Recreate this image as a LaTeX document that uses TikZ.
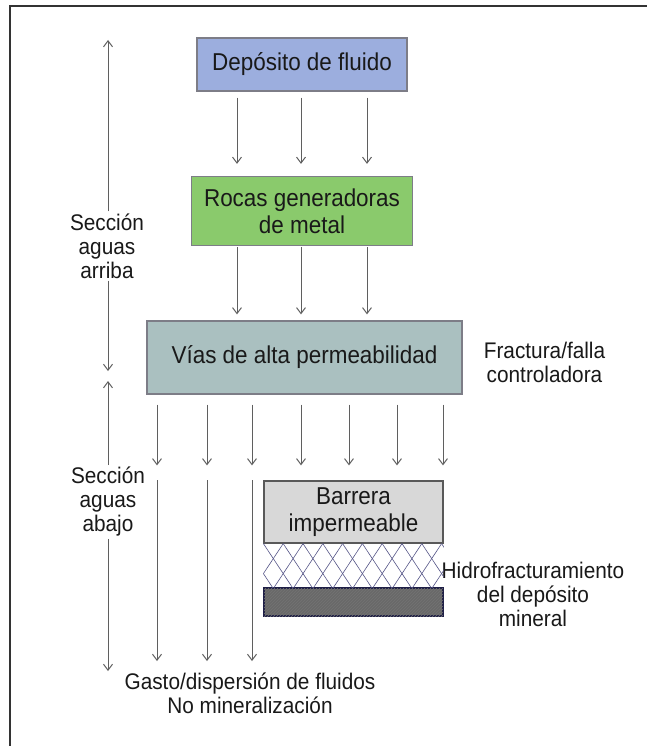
\documentclass[tikz,border=0pt]{standalone}
\usepackage{fontspec}
\setmainfont{Liberation Sans}[FakeStretch=0.92]
\usepackage{xcolor}
\usepackage{tikz}
\usetikzlibrary{positioning,arrows.meta,patterns,calc}

\definecolor{depfill}{RGB}{156,174,222}
\definecolor{rocfill}{RGB}{138,202,108}
\definecolor{viafill}{RGB}{170,192,192}
\definecolor{barfill}{RGB}{216,216,216}
\definecolor{minfill}{RGB}{105,105,105}
\definecolor{edgegray}{RGB}{125,125,135}
\definecolor{flowgray}{RGB}{95,95,95}
\definecolor{netblue}{RGB}{85,85,135}
\definecolor{minedge}{RGB}{30,30,70}

\begin{document}
\begin{tikzpicture}[x=1pt,y=-1pt,>={Straight Barb[length=6pt,width=9pt]},
            node distance=146.5pt,
            box/.style={rectangle,draw=edgegray,line width=1.2pt,align=center,
              text=black!90,font=\fontsize{24.4}{27}\selectfont},
            side/.style={align=center,inner sep=2pt,text=black!90,
              font=\fontsize{22.6}{24}\selectfont},
            flow/.style={->,color=flowgray,line width=1pt},
            net/.style={draw=netblue,line width=0.6pt}]

            \useasboundingbox (0,0) rectangle (647,746);
            \draw[line width=1.2pt,black!80] (10,746) -- (10,6) -- (647,6);

            \node[box,fill=depfill,minimum width=210pt,minimum height=53pt] (dep) at (302,64.5) {Depósito de fluido};
            \node[box,fill=rocfill,minimum width=221pt,minimum height=69pt] (rocas) [below of=dep] {Rocas generadoras\\de metal};
            \node[box,fill=viafill,minimum width=315pt,minimum height=73pt] (vias) [below of=rocas,xshift=2.5pt] {Vías de alta permeabilidad};
            \node[box,fill=barfill,draw=black!65,minimum width=179pt,minimum height=62pt] (barrera) at (353.5,512) {Barrera\\impermeable};
            \tikzset{node distance=90pt}
            \node[rectangle,draw=minedge,line width=1.5pt,fill=minfill,
              postaction={pattern=north east lines,pattern color=black!55},
              minimum width=179pt,minimum height=28pt] (mineral) [below of=barrera] {};

            \node[side] (arriba) at (107,246) {Sección\\aguas\\arriba};
            \node[side] (abajo) at (108,502) {Sección\\aguas\\abajo};
            \node[side] (fractura) at (544.5,362) {Fractura/falla\\controladora};
            \node[side] (hidro) at (533,594) {Hidrofracturamiento\\del depósito\\mineral};
            \node[side,anchor=north] (gasto) at (250,671) {Gasto/dispersión de fluidos\\No mineralización};

            \coordinate (cima) at (108,40);
            \coordinate (limite1) at (108,371);
            \coordinate (limite2) at (108,381);
            \coordinate (fondo) at (108,671);

            % red de fracturas
            \begin{scope}
              \clip (barrera.south west) rectangle (mineral.north east);
              \foreach \i in {-2,...,11} {
                \draw[net] ($(barrera.south west)+(\i*19.8,0)$) -- ++(29.7,45);
                \draw[net] ($(barrera.south west)+(\i*19.8,0)$) -- ++(-29.7,45);
              }
            \end{scope}

            \path[flow] (arriba.north -| cima) edge (cima) (arriba.south -| cima) edge (limite1)
            (abajo) edge (limite2) (abajo) edge (fondo);
            \path[flow,shorten <=6pt,shorten >=12pt]
            (dep.south -| 237,0) edge (rocas.north -| 237,0)
            (dep.south -| 301,0) edge (rocas.north -| 301,0)
            (dep.south -| 367,0) edge (rocas.north -| 367,0);
            \path[flow,shorten <=1pt,shorten >=6pt]
            (rocas.south -| 237,0) edge (vias.north -| 237,0)
            (rocas.south -| 301,0) edge (vias.north -| 301,0)
            (rocas.south -| 367,0) edge (vias.north -| 367,0);
            \path[flow,shorten <=10pt,shorten >=15pt]
            (vias.south -| 157,0) edge (barrera.north -| 157,0)
            (vias.south -| 207,0) edge (barrera.north -| 207,0)
            (vias.south -| 252,0) edge (barrera.north -| 252,0)
            (vias.south -| 301,0) edge (barrera.north -| 301,0)
            (vias.south -| 349,0) edge (barrera.north -| 349,0)
            (vias.south -| 397,0) edge (barrera.north -| 397,0)
            (vias.south -| 443,0) edge (barrera.north -| 443,0);
            \path[flow,shorten >=10pt]
            (barrera.north -| 157,0) edge (gasto.north -| 157,0)
            (barrera.north -| 207,0) edge (gasto.north -| 207,0)
            (barrera.north -| 252,0) edge (gasto.north -| 252,0);
          \end{tikzpicture}
\end{document}
